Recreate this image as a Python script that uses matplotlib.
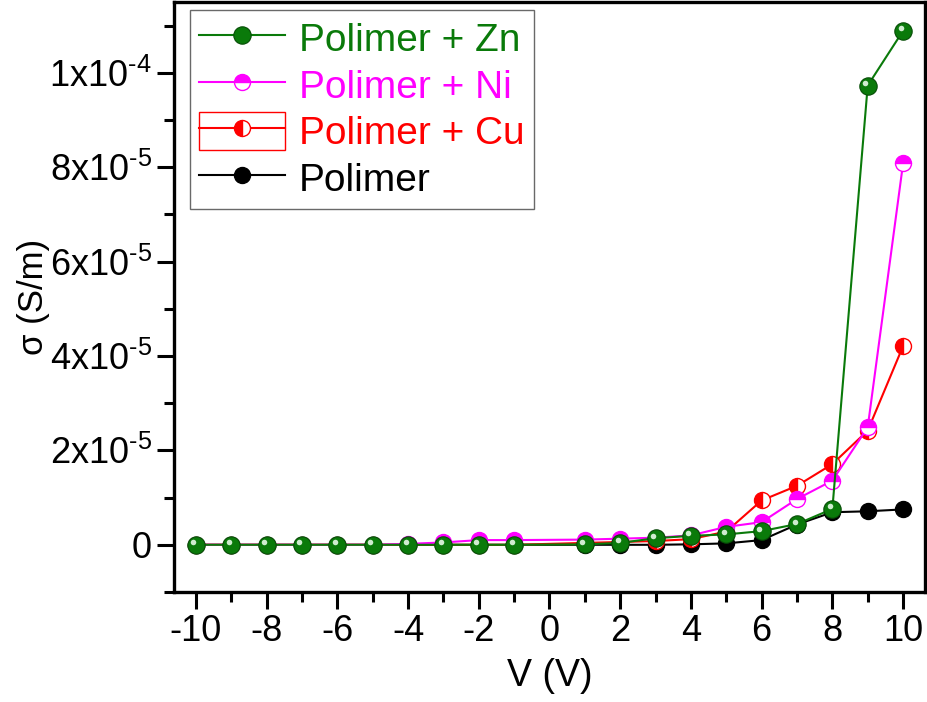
import numpy as np
import matplotlib
matplotlib.use("Agg")
import matplotlib.pyplot as plt
from matplotlib.patches import Rectangle
from matplotlib.legend_handler import HandlerTuple
from matplotlib.transforms import offset_copy

plt.rcParams['font.family'] = ['Liberation Sans', 'DejaVu Sans']
plt.rcParams['mathtext.fontset'] = 'custom'
plt.rcParams['mathtext.rm'] = 'Liberation Sans'
plt.rcParams['mathtext.it'] = 'Liberation Sans'
plt.rcParams['axes.unicode_minus'] = False

# voltage steps (no point at 0 V)
volts = [-10, -9, -8, -7, -6, -5, -4, -3, -2, -1, 1, 2, 3, 4, 5, 6, 7, 8, 9, 10]

# conductivity in S/m
sig_polimer = [0, 0, 0, 0, 0, 0, 0, 0, 0, 0,
               0, 0, 0, 0.1e-6, 0.3e-6, 1.0e-6, 4.3e-6, 6.9e-6, 7.1e-6, 7.5e-6]
sig_cu = [0, 0, 0, 0, 0, 0, 0, 0, 0, 0,
          0.4e-6, 0.6e-6, 0.8e-6, 1.2e-6, 2.8e-6, 9.4e-6, 12.5e-6, 17.1e-6, 24.2e-6, 42.1e-6]
sig_ni = [0, 0, 0, 0, 0, 0, 0.2e-6, 0.5e-6, 1.0e-6, 1.0e-6,
          1.1e-6, 1.3e-6, 1.5e-6, 2.0e-6, 3.8e-6, 4.8e-6, 9.7e-6, 13.6e-6, 24.9e-6, 80.8e-6]
sig_zn = [0, 0, 0, 0, 0, 0, 0, 0, 0, 0,
          0.1e-6, 0.4e-6, 1.4e-6, 1.9e-6, 2.2e-6, 2.9e-6, 4.4e-6, 7.6e-6, 97.3e-6, 108.9e-6]

ytick_vals = [0, 2e-5, 4e-5, 6e-5, 8e-5, 1e-4]
ytick_labels = ["0", r"2x10$^{\text{-5}}$", r"4x10$^{\text{-5}}$", r"6x10$^{\text{-5}}$",
                r"8x10$^{\text{-5}}$", r"1x10$^{\text{-4}}$"]
xtick_vals = [-10, -8, -6, -4, -2, 0, 2, 4, 6, 8, 10]

fig = plt.figure(figsize=(9.28, 7.02), dpi=100)
ax = fig.add_axes([174/928, 1 - 592/702, (925 - 174)/928, (592 - 2)/702])

ms = 11.5
lw = 1.5
green = '#0a7a0a'

l_pol, = ax.plot(volts, sig_polimer, '-o', color='black', lw=lw, ms=ms, zorder=2)
l_cu, = ax.plot(volts, sig_cu, '-o', color='red', lw=lw, ms=ms, fillstyle='left',
                markerfacecolor='red', markerfacecoloralt='white', markeredgecolor='red',
                markeredgewidth=1.0, zorder=3)
l_ni, = ax.plot(volts, sig_ni, '-o', color='#ff00ff', lw=lw, ms=ms, fillstyle='top',
                markerfacecolor='#ff00ff', markerfacecoloralt='white', markeredgecolor='#ff00ff',
                markeredgewidth=1.0, zorder=4)
l_zn, = ax.plot(volts, sig_zn, '-o', color=green, lw=lw, ms=ms + 1,
                markeredgecolor='#064d06', markeredgewidth=0.8, zorder=5)
# little highlight on the green spheres
shine = offset_copy(ax.transData, fig=fig, x=-2.5, y=2.5, units='dots')
ax.plot(volts, sig_zn, 'o', ms=4, color='#cfeccf', mec='none', transform=shine, zorder=6)

ax.set_xlim(-10.62, 10.62)
ax.set_ylim(-1.0e-5, 1.15e-4)

ax.set_xticks(xtick_vals)
ax.set_xticks(np.arange(-9, 10, 2), minor=True)
ax.set_yticks(ytick_vals)
ax.set_yticklabels(ytick_labels)
ax.set_yticks(np.arange(-1e-5, 1.15e-4, 2e-5), minor=True)

ax.tick_params(which='major', direction='out', length=12, width=2.2, labelsize=26, pad=4)
ax.tick_params(which='minor', direction='out', length=7, width=2.2)
for sp in ax.spines.values():
    sp.set_linewidth(2.4)

ax.set_xlabel("V (V)", fontsize=27, labelpad=6)
ax.set_ylabel("σ (S/m)", fontsize=25)
ax.yaxis.set_label_coords(-0.165, 0.5)

# the Cu entry carries a box round its symbol
cu_box = Rectangle((0, 0), 1, 1, facecolor='none', edgecolor='red', lw=1.0)
handles = [l_zn, l_ni, (cu_box, l_cu), l_pol]
labels = ["Polimer + Zn", "Polimer + Ni", "Polimer + Cu", "Polimer"]
leg = ax.legend(handles, labels, loc='upper left', bbox_to_anchor=(0.021, 0.987),
                borderaxespad=0, fontsize=28, frameon=True, fancybox=False,
                edgecolor='#444444', handlelength=2.2, handletextpad=0.35,
                labelspacing=0.17, borderpad=0.25, handleheight=1.1,
                handler_map={tuple: HandlerTuple(ndivide=1, pad=0)})
leg.get_frame().set_linewidth(1.0)
for txt, col in zip(leg.get_texts(), [green, '#ff00ff', 'red', 'black']):
    txt.set_color(col)

plt.savefig("out.png", dpi=100)
